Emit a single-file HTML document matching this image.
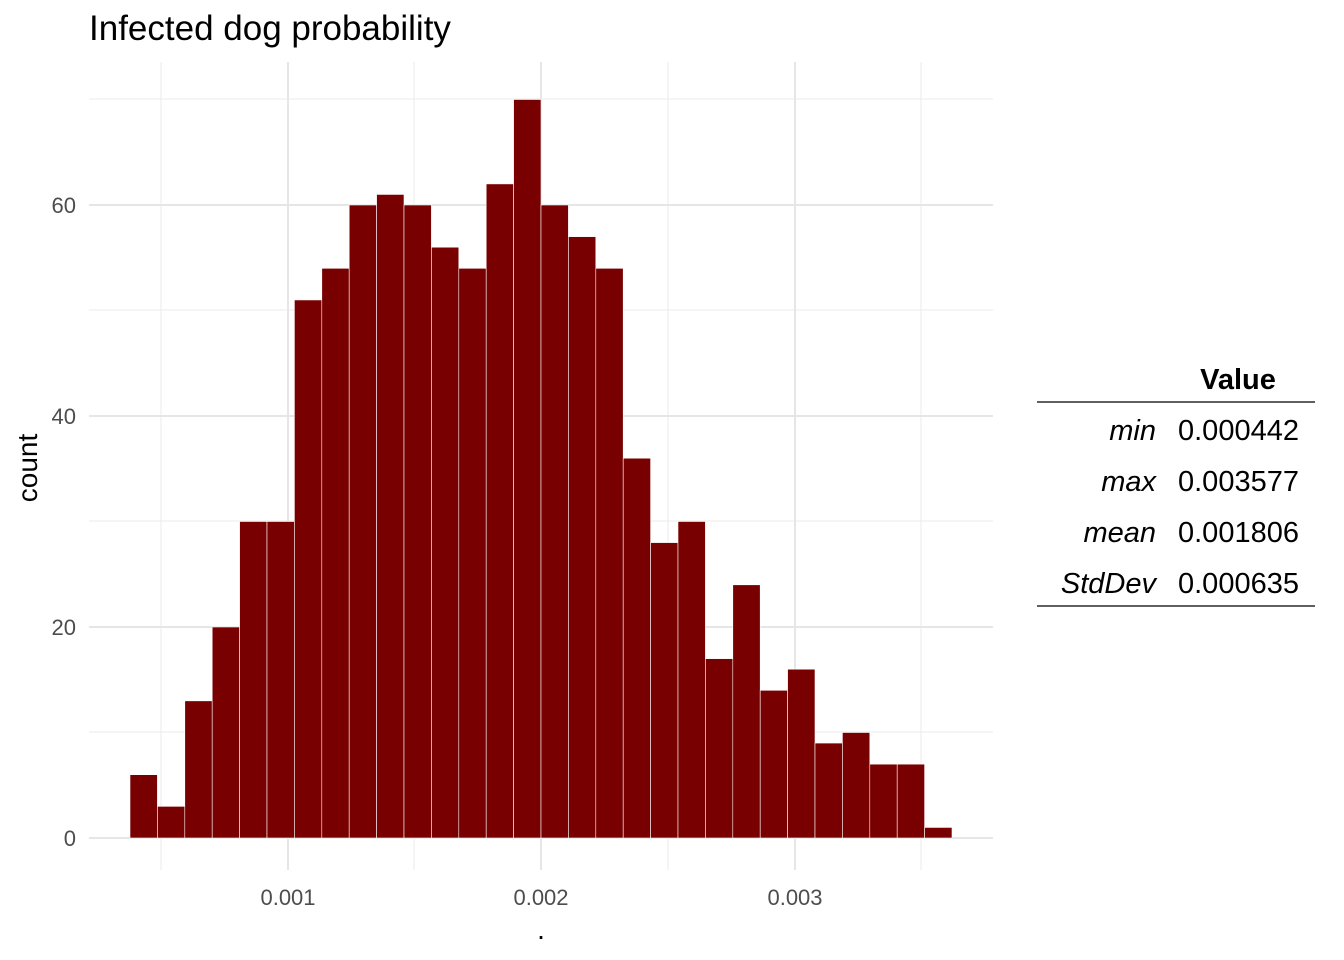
<!DOCTYPE html>
<html><head><meta charset="utf-8"><style>
html,body{margin:0;padding:0;background:#fff;}
svg{display:block;font-family:"Liberation Sans",Arial,sans-serif;}
</style></head><body>
<svg width="1344" height="960" viewBox="0 0 1344 960" xmlns="http://www.w3.org/2000/svg">
<rect width="1344" height="960" fill="#fff"/>
<text x="89" y="40" font-size="35" fill="#000">Infected dog probability</text>
<g stroke="#ebebeb" stroke-width="1">
<line x1="89" x2="993" y1="732" y2="732"/><line x1="89" x2="993" y1="521" y2="521"/>
<line x1="89" x2="993" y1="310" y2="310"/><line x1="89" x2="993" y1="99" y2="99"/>
<line x1="161" x2="161" y1="62" y2="870"/><line x1="414" x2="414" y1="62" y2="870"/>
<line x1="668" x2="668" y1="62" y2="870"/><line x1="921" x2="921" y1="62" y2="870"/>
</g>
<g stroke="#e6e6e6" stroke-width="2">
<line x1="89" x2="993" y1="838" y2="838"/><line x1="89" x2="993" y1="627" y2="627"/>
<line x1="89" x2="993" y1="416" y2="416"/><line x1="89" x2="993" y1="205" y2="205"/>
<line x1="288" x2="288" y1="62" y2="870"/><line x1="541" x2="541" y1="62" y2="870"/>
<line x1="795" x2="795" y1="62" y2="870"/>
</g>
<g fill="#780000" stroke="#ffffff" stroke-width="0.6">
<rect x="130" y="774.7" width="27.4" height="63.3"/>
<rect x="157.4" y="806.35" width="27.4" height="31.65"/>
<rect x="184.8" y="700.85" width="27.4" height="137.15"/>
<rect x="212.2" y="627" width="27.4" height="211"/>
<rect x="239.6" y="521.5" width="27.4" height="316.5"/>
<rect x="267" y="521.5" width="27.4" height="316.5"/>
<rect x="294.4" y="299.95" width="27.4" height="538.05"/>
<rect x="321.8" y="268.3" width="27.4" height="569.7"/>
<rect x="349.2" y="205" width="27.4" height="633"/>
<rect x="376.6" y="194.45" width="27.4" height="643.55"/>
<rect x="404" y="205" width="27.4" height="633"/>
<rect x="431.4" y="247.2" width="27.4" height="590.8"/>
<rect x="458.8" y="268.3" width="27.4" height="569.7"/>
<rect x="486.2" y="183.9" width="27.4" height="654.1"/>
<rect x="513.6" y="99.5" width="27.4" height="738.5"/>
<rect x="541" y="205" width="27.4" height="633"/>
<rect x="568.4" y="236.65" width="27.4" height="601.35"/>
<rect x="595.8" y="268.3" width="27.4" height="569.7"/>
<rect x="623.2" y="458.2" width="27.4" height="379.8"/>
<rect x="650.6" y="542.6" width="27.4" height="295.4"/>
<rect x="678" y="521.5" width="27.4" height="316.5"/>
<rect x="705.4" y="658.65" width="27.4" height="179.35"/>
<rect x="732.8" y="584.8" width="27.4" height="253.2"/>
<rect x="760.2" y="690.3" width="27.4" height="147.7"/>
<rect x="787.6" y="669.2" width="27.4" height="168.8"/>
<rect x="815" y="743.05" width="27.4" height="94.95"/>
<rect x="842.4" y="732.5" width="27.4" height="105.5"/>
<rect x="869.8" y="764.15" width="27.4" height="73.85"/>
<rect x="897.2" y="764.15" width="27.4" height="73.85"/>
<rect x="924.6" y="827.45" width="27.4" height="10.55"/>
</g>
<g font-size="22" fill="#4d4d4d" text-anchor="end">
<text x="76" y="846">0</text><text x="76" y="635">20</text>
<text x="76" y="424">40</text><text x="76" y="213">60</text>
</g>
<g font-size="22" fill="#4d4d4d" text-anchor="middle">
<text x="288" y="905">0.001</text><text x="541" y="905">0.002</text><text x="795" y="905">0.003</text>
</g>
<text x="541" y="939" font-size="28" text-anchor="middle">.</text>
<text transform="translate(37,468) rotate(-90)" font-size="28" text-anchor="middle">count</text>
<text x="1238" y="389" font-size="29" font-weight="bold" text-anchor="middle">Value</text>
<line x1="1037" x2="1315" y1="402" y2="402" stroke="#000" stroke-width="1.2"/>
<line x1="1037" x2="1315" y1="606" y2="606" stroke="#000" stroke-width="1.2"/>
<g font-size="29" font-style="italic" text-anchor="end">
<text x="1156" y="440">min</text><text x="1156" y="491">max</text>
<text x="1156" y="542">mean</text><text x="1156" y="593">StdDev</text>
</g>
<g font-size="29">
<text x="1178" y="440">0.000442</text><text x="1178" y="491">0.003577</text>
<text x="1178" y="542">0.001806</text><text x="1178" y="593">0.000635</text>
</g>
</svg>
</body></html>
